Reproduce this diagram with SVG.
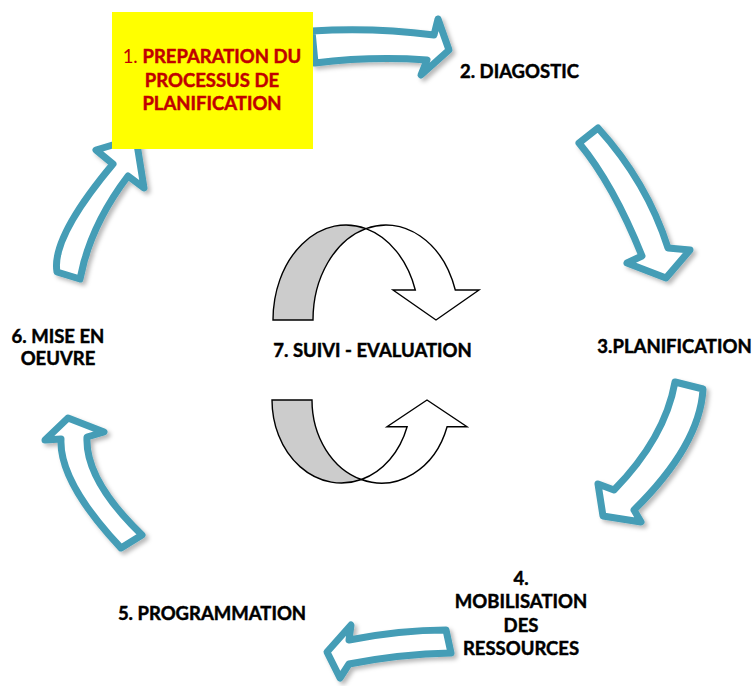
<svg xmlns="http://www.w3.org/2000/svg" width="753" height="686" viewBox="0 0 753 686">
  <style>
    .lbl { font-family: Lato, "Liberation Sans", sans-serif; font-weight: 700; font-size: 18.5px; fill: #000; stroke: #000; stroke-width: 0.45; text-anchor: middle; }
    .red { fill: #C00000; stroke: #C00000; }
    .thin { font-weight: 400; stroke-width: 0; }
    .flow { fill: #fff; stroke: #449DB6; stroke-width: 7; stroke-linejoin: round; filter: url(#shadow); }
    .back { fill: #CCCCCC; stroke: #000; stroke-width: 1.4; stroke-linejoin: miter; }
    .front { fill: #fff; stroke: #000; stroke-width: 1.4; stroke-linejoin: miter; }
  </style>
  <defs>
    <filter id="shadow" x="-20%" y="-20%" width="140%" height="140%">
      <feDropShadow dx="3" dy="3" stdDeviation="2.2" flood-color="#000" flood-opacity="0.28"/>
    </filter>
  </defs>
  <rect width="753" height="686" fill="#fff"/>

  <!-- cycle connectors: curved block arrows between the steps -->
  <g id="connectors">
    <path id="c6-1" class="flow" d="M57,272 Q51,238 113,164 L96,150 L136,138 L144,188 L128,176 Q90,226 80,279 Z"/>
    <path id="c1-2" class="flow" d="M312,31 Q372,27 434,35 L438,19 L449,50 L421,75 L427,60 Q372,56 315,63 Z"/>
    <path id="c2-3" class="flow" d="M579,143 L598,128 Q647,182 668,248 L690,250 L666,278 L627,263 L642,256 Q613,184 579,143 Z"/>
    <path id="c3-4" class="flow" d="M675,382 L703,389 Q700,445 634,510 L641,522 L603,516 L598,484 L614,490 Q665,438 675,382 Z"/>
    <path id="c4-5" class="flow" d="M327,652 L351,625 L349,640 Q400,630 446,630 L451,653 Q400,654 349,664 L340,678 Z"/>
    <path id="c5-6" class="flow" d="M68,418 L104,432 L87,437 Q85,480 142,535 L121,548 Q59,482 61,439 L45,440 Z"/>
  </g>

  <!-- step 1 -->
  <g id="node-1">
    <rect x="112" y="12" width="201" height="137" fill="#FFFF00"/>
    <text class="lbl red" x="212" y="63"><tspan class="thin">1. </tspan>PREPARATION DU</text>
    <text class="lbl red" x="212" y="87">PROCESSUS DE</text>
    <text class="lbl red" x="212" y="110">PLANIFICATION</text>
  </g>

  <g id="node-2">
    <text class="lbl" x="519.5" y="78">2. DIAGOSTIC</text>
  </g>

  <g id="node-3">
    <text class="lbl" x="674.5" y="353">3.PLANIFICATION</text>
  </g>

  <g id="node-4">
    <text class="lbl" x="521" y="585">4.</text>
    <text class="lbl" x="521" y="608">MOBILISATION</text>
    <text class="lbl" x="521" y="632">DES</text>
    <text class="lbl" x="521" y="655">RESSOURCES</text>
  </g>

  <g id="node-5">
    <text class="lbl" x="212" y="620">5. PROGRAMMATION</text>
  </g>

  <g id="node-6">
    <text class="lbl" x="58" y="343">6. MISE EN</text>
    <text class="lbl" x="58" y="365">OEUVRE</text>
  </g>

  <!-- step 7: monitoring loop with two curved arrows -->
  <g id="node-7">
    <path class="back" d="M273,320 A73,95 0 0 1 366,228.6 A73,95 0 0 0 313,320 Z"/>
    <path class="front" d="M366,228.6 A73,95 0 0 1 455.3,290 L479,290 L436,320 L393,290 L415.3,290 A73,95 0 0 0 366,228.6 Z"/>
    <text class="lbl" x="372.5" y="357">7. SUIVI - EVALUATION</text>
    <path class="back" d="M272,400 A69.4,83 0 0 0 361.4,479.5 A69.4,83 0 0 1 312,400 Z"/>
    <path class="front" d="M361.4,479.5 A69.4,83 0 0 0 447.1,426.7 L467,426.7 L427,400 L387,426.7 L407.1,426.7 A69.4,83 0 0 1 361.4,479.5 Z"/>
  </g>
</svg>
